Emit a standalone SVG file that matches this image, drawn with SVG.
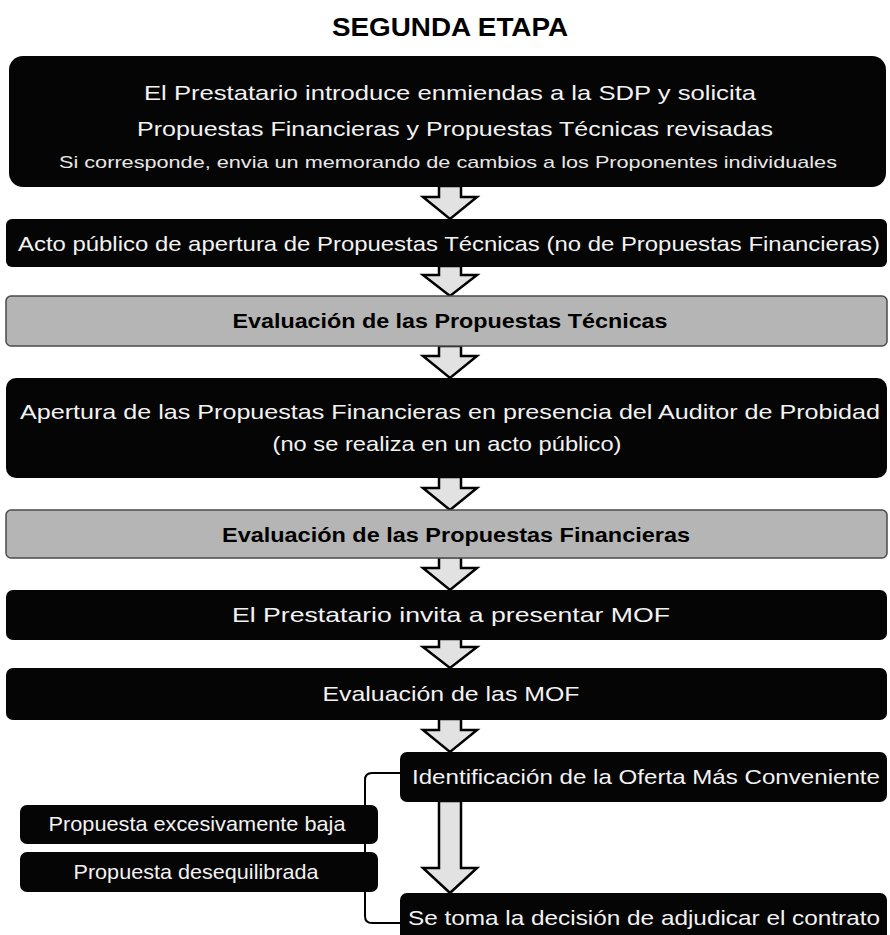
<svg xmlns="http://www.w3.org/2000/svg" width="890" height="935" viewBox="0 0 890 935">
<defs>
<style>
.dark{fill:#050505;}
.gray{fill:#b5b5b5;stroke:#4a4a4a;stroke-width:1.5;}
.t{font-family:"Liberation Sans",Arial,sans-serif;font-size:21px;fill:#f2f2f2;text-anchor:middle;}
.ts{font-family:"Liberation Sans",Arial,sans-serif;font-size:17px;fill:#e8e8e8;text-anchor:middle;}
.tb{font-family:"Liberation Sans",Arial,sans-serif;font-size:21px;font-weight:bold;fill:#000;text-anchor:middle;}
.title{font-family:"Liberation Sans",Arial,sans-serif;font-size:26px;font-weight:bold;fill:#000;text-anchor:middle;}
.arr{fill:#e2e2e2;stroke:#000;stroke-width:2.5;stroke-linejoin:miter;}
.br{fill:none;stroke:#000;stroke-width:2;}
</style>
</defs>
<rect width="890" height="935" fill="#fff"/>
<text class="title" x="450" y="36" textLength="236" lengthAdjust="spacingAndGlyphs">SEGUNDA ETAPA</text>

<g id="connectors">
<path class="arr" d="M439,186 L461,186 L461,197 L477,197 L450,219 L423,197 L439,197 Z"/>
<path class="arr" d="M439,266 L461,266 L461,275 L477,275 L450,296 L423,275 L439,275 Z"/>
<path class="arr" d="M439,346 L461,346 L461,356 L477,356 L450,378 L423,356 L439,356 Z"/>
<path class="arr" d="M439,477 L461,477 L461,488 L477,488 L450,510 L423,488 L439,488 Z"/>
<path class="arr" d="M439,557 L461,557 L461,568 L477,568 L450,590 L423,568 L439,568 Z"/>
<path class="arr" d="M439,639 L461,639 L461,647 L477,647 L450,668 L423,647 L439,647 Z"/>
<path class="arr" d="M439,719 L461,719 L461,730 L477,730 L450,752 L423,730 L439,730 Z"/>
<path class="arr" d="M439,801 L461,801 L461,868 L477,868 L450,893 L423,868 L439,868 Z"/>
<path class="br" d="M400,773 L372,773 Q365,773 365,780 L365,916 Q365,923 372,923 L400,923"/>
</g>

<g id="n1">
<rect class="dark" x="9" y="56" width="877" height="131" rx="14"/>
<text class="t" x="450" y="100" textLength="612" lengthAdjust="spacingAndGlyphs">El Prestatario introduce enmiendas a la SDP y solicita</text>
<text class="t" x="455" y="136" textLength="636" lengthAdjust="spacingAndGlyphs">Propuestas Financieras y Propuestas Técnicas revisadas</text>
<text class="ts" x="448" y="168" textLength="778" lengthAdjust="spacingAndGlyphs">Si corresponde, envia un memorando de cambios a los Proponentes individuales</text>
</g>

<g id="n2">
<rect class="dark" x="6" y="219" width="881" height="48" rx="6"/>
<text class="t" x="449" y="251" textLength="862" lengthAdjust="spacingAndGlyphs">Acto público de apertura de Propuestas Técnicas (no de Propuestas Financieras)</text>
</g>

<g id="n3">
<rect class="gray" x="6" y="296" width="881" height="50" rx="5"/>
<text class="tb" x="450" y="328" textLength="435" lengthAdjust="spacingAndGlyphs">Evaluación de las Propuestas Técnicas</text>
</g>

<g id="n4">
<rect class="dark" x="6" y="378" width="881" height="100" rx="10"/>
<text class="t" x="450" y="419" textLength="860" lengthAdjust="spacingAndGlyphs">Apertura de las Propuestas Financieras en presencia del Auditor de Probidad</text>
<text class="t" x="447" y="451" textLength="349" lengthAdjust="spacingAndGlyphs">(no se realiza en un acto público)</text>
</g>

<g id="n5">
<rect class="gray" x="6" y="510" width="881" height="48" rx="5"/>
<text class="tb" x="456" y="542" textLength="468" lengthAdjust="spacingAndGlyphs">Evaluación de las Propuestas Financieras</text>
</g>

<g id="n6">
<rect class="dark" x="6" y="590" width="881" height="50" rx="7"/>
<text class="t" x="451" y="622" textLength="438" lengthAdjust="spacingAndGlyphs">El Prestatario invita a presentar MOF</text>
</g>

<g id="n7">
<rect class="dark" x="6" y="668" width="881" height="52" rx="7"/>
<text class="t" x="451" y="701" textLength="257" lengthAdjust="spacingAndGlyphs">Evaluación de las MOF</text>
</g>

<g id="n8">
<rect class="dark" x="400" y="752" width="487" height="50" rx="7"/>
<text class="t" x="646" y="784" textLength="468" lengthAdjust="spacingAndGlyphs">Identificación de la Oferta Más Conveniente</text>
</g>

<g id="n9">
<rect class="dark" x="20" y="805" width="358" height="39" rx="7"/>
<text class="t" x="197" y="831" textLength="297" lengthAdjust="spacingAndGlyphs">Propuesta excesivamente baja</text>
</g>

<g id="n10">
<rect class="dark" x="20" y="852" width="358" height="40" rx="7"/>
<text class="t" x="196" y="879" textLength="245" lengthAdjust="spacingAndGlyphs">Propuesta desequilibrada</text>
</g>

<g id="n11">
<rect class="dark" x="400" y="893" width="487" height="50" rx="7"/>
<text class="t" x="644" y="925" textLength="472" lengthAdjust="spacingAndGlyphs">Se toma la decisión de adjudicar el contrato</text>
</g>
</svg>
